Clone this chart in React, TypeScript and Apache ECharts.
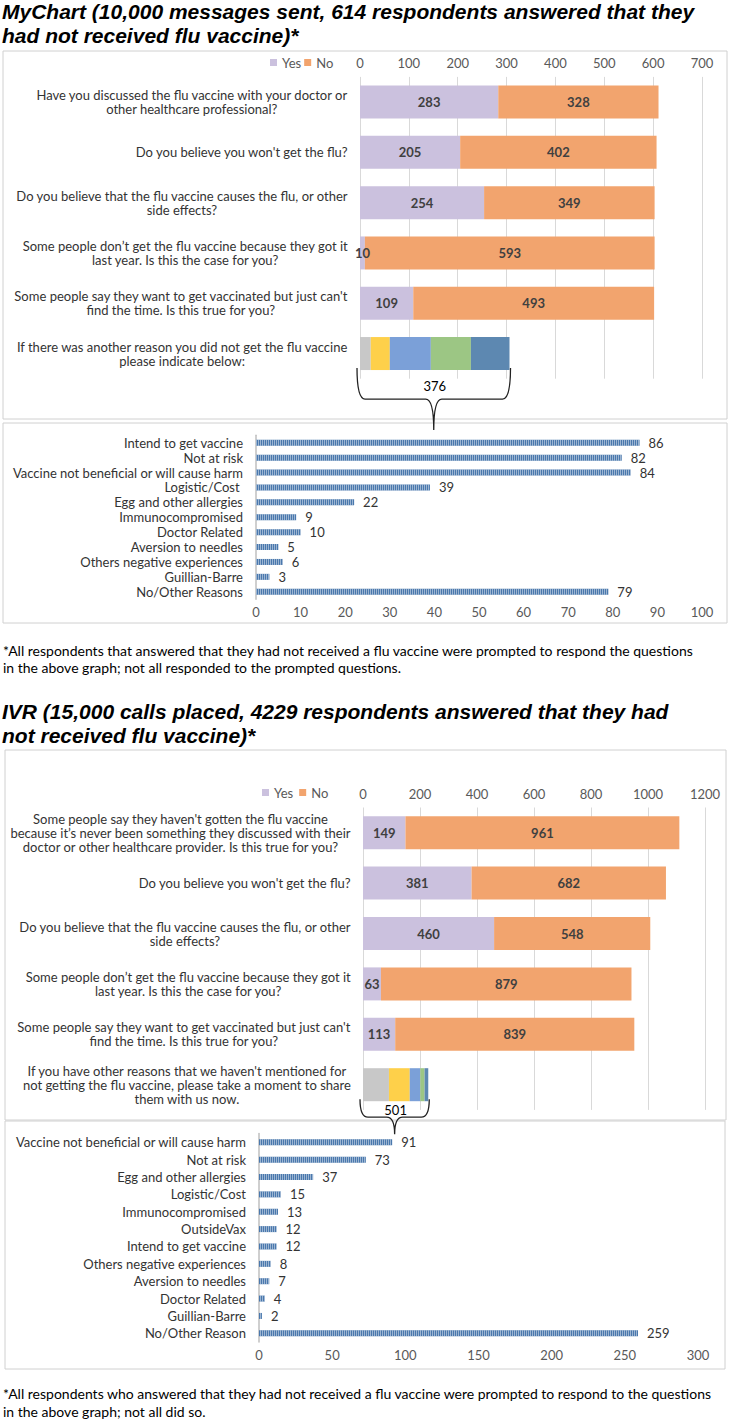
import React, { useEffect, useRef } from 'react';
import * as echarts from 'echarts';

const FONT = 'Lato, "Noto Sans", sans-serif';
const TITLE_FONT = '"Liberation Sans", Arial, sans-serif';

// ---------- MyChart data ----------
const mcTitle = [
  'MyChart (10,000 messages sent, 614 respondents answered that they',
  'had not received flu vaccine)*',
];
const mcQuestions = [
  'Have you discussed the flu vaccine with your doctor or\nother healthcare professional?',
  "Do you believe you won't get the flu?",
  'Do you believe that the flu vaccine causes the flu, or other\nside effects?',
  'Some people don\u2019t get the flu vaccine because they got it\nlast year. Is this the case for you?',
  "Some people say they want to get vaccinated but just can't\nfind the time. Is this true for you?",
  'If there was another reason you did not get the flu vaccine\nplease indicate below:',
];
const mcYes = [283, 205, 254, 10, 109, null];
const mcNo = [328, 402, 349, 593, 493, null];
const mcOtherSegments = [22, 39, 84, 82, 79];
const mcOtherTotal = '376';
const mcReasons = [
  'Intend to get vaccine',
  'Not at risk',
  'Vaccine not beneficial or will cause harm',
  'Logistic/Cost ',
  'Egg and other allergies',
  'Immunocompromised',
  'Doctor Related',
  'Aversion to needles',
  'Others negative experiences',
  'Guillian-Barre',
  'No/Other Reasons',
];
const mcReasonCounts = [86, 82, 84, 39, 22, 9, 10, 5, 6, 3, 79];
const mcFootnote = [
  '*All respondents that answered that they had not received a flu vaccine were prompted to respond the questions',
  'in the above graph; not all responded to the prompted questions.',
];

// ---------- IVR data ----------
const ivrTitle = [
  'IVR (15,000 calls placed, 4229 respondents answered that they had',
  'not received flu vaccine)*',
];
const ivrQuestions = [
  "Some people say they haven't gotten the flu vaccine\nbecause it\u2019s never been something they discussed with their\ndoctor or other healthcare provider. Is this true for you?",
  "Do you believe you won't get the flu?",
  'Do you believe that the flu vaccine causes the flu, or other\nside effects?',
  'Some people don\u2019t get the flu vaccine because they got it\nlast year. Is this the case for you?',
  "Some people say they want to get vaccinated but just can't\nfind the time. Is this true for you?",
  "If you have other reasons that we haven't mentioned for\nnot getting the flu vaccine, please take a moment to share\nthem with us now.",
];
const ivrYes = [149, 381, 460, 63, 113, null];
const ivrNo = [961, 682, 548, 879, 839, null];
const ivrOtherSegments = [91, 73, 37, 15, 13];
const ivrOtherTotal = '501';
const ivrReasons = [
  'Vaccine not beneficial or will cause harm',
  'Not at risk',
  'Egg and other allergies',
  'Logistic/Cost',
  'Immunocompromised',
  'OutsideVax',
  'Intend to get vaccine',
  'Others negative experiences',
  'Aversion to needles',
  'Doctor Related',
  'Guillian-Barre',
  'No/Other Reason',
];
const ivrReasonCounts = [91, 73, 37, 15, 13, 12, 12, 8, 7, 4, 2, 259];
const ivrFootnote = [
  '*All respondents who answered that they had not received a flu vaccine were prompted to respond to the questions',
  'in the above graph; not all did so.',
];

const legendNames = ['Yes', 'No'];

// ---------- styles ----------
const YES_COLOR = '#cbc1de';
const NO_COLOR = '#f2a46e';
const SEG_COLORS = ['#c8c8c8', '#fed04a', '#7ba0d8', '#9cc684', '#5d88b1'];
const HATCH_COLOR = '#4a78ad';
const TEXT = '#333333';
const AXIS_TEXT = '#595959';
const GRID_LINE = '#d9d9d9';
const LABEL_SIZE = 13;

function centerLines(v: string) {
  return v
    .split('\n')
    .map((l) => `{c|${l}}`)
    .join('\n');
}

function yesNoSeries(g: number, yes: any[], no: any[], segs: number[], total: string, bw: number, drop: number, tip: number) {
  const n = yes.length;
  const lbl = {
    show: true,
    position: 'inside',
    fontSize: LABEL_SIZE,
    fontWeight: 'bold',
    color: '#404040',
    fontFamily: FONT,
  };
  const out: any[] = [
    { name: 'Yes', type: 'bar', stack: 's' + g, xAxisIndex: g, yAxisIndex: g, barWidth: bw, data: yes, itemStyle: { color: YES_COLOR }, label: lbl },
    { name: 'No', type: 'bar', stack: 's' + g, xAxisIndex: g, yAxisIndex: g, barWidth: bw, data: no, itemStyle: { color: NO_COLOR }, label: lbl },
  ];
  segs.forEach((v, i) => {
    const d: any[] = new Array(n).fill(null);
    d[n - 1] = v;
    out.push({ name: 'seg' + g + '_' + i, type: 'bar', stack: 's' + g, xAxisIndex: g, yAxisIndex: g, barWidth: bw, data: d, itemStyle: { color: SEG_COLORS[i] } });
  });
  const sum = segs.reduce((a, b) => a + b, 0);
  out.push({
    type: 'custom',
    xAxisIndex: g,
    yAxisIndex: g,
    clip: false,
    silent: true,
    z: 5,
    data: [[sum, n - 1]],
    renderItem: (_p: any, api: any) => {
      const a = api.coord([0, api.value(1)]);
      const b = api.coord([api.value(0), api.value(1)]);
      const x0 = a[0] - 3;
      const x1 = b[0] + 1;
      const bottom = a[1] + bw / 2;
      const yTop = bottom - 2;
      const yMid = bottom + drop;
      const yTip = bottom + tip;
      const xm = (x0 + x1) / 2;
      const r = Math.min(8, (x1 - x0) / 6);
      const d = `M${x0},${yTop} Q${x0},${yMid} ${x0 + r},${yMid} L${xm - r},${yMid} Q${xm},${yMid} ${xm},${yTip} Q${xm},${yMid} ${xm + r},${yMid} L${x1 - r},${yMid} Q${x1},${yMid} ${x1},${yTop}`;
      return {
        type: 'group',
        children: [
          { type: 'path', shape: { pathData: d }, style: { fill: 'none', stroke: '#222', lineWidth: 1.3 } },
          {
            type: 'text',
            style: { text: total, x: xm + 1, y: (yTop + yMid) / 2 + 2, align: 'center', verticalAlign: 'middle', fontSize: LABEL_SIZE, fontFamily: FONT, fill: '#000' },
          },
        ],
      };
    },
  });
  return out;
}

function reasonSeries(g: number, counts: number[]) {
  return {
    type: 'bar',
    xAxisIndex: g,
    yAxisIndex: g,
    barWidth: 6,
    data: counts,
    itemStyle: {
      color: HATCH_COLOR,
      decal: { symbol: 'rect', symbolSize: 1, dashArrayX: [1, 1], dashArrayY: [4, 0], rotation: 0, color: 'rgba(255,255,255,0.45)' },
    },
    label: { show: true, position: 'right', distance: 9, fontSize: LABEL_SIZE, color: TEXT, fontFamily: FONT },
  };
}

function valueX(g: number, max: number, interval: number, top: boolean, margin: number, split: boolean) {
  return {
    gridIndex: g,
    type: 'value',
    position: top ? 'top' : 'bottom',
    min: 0,
    max,
    interval,
    axisLine: { show: false },
    axisTick: { show: false },
    splitLine: { show: split, lineStyle: { color: GRID_LINE, width: 1 } },
    axisLabel: { margin, fontSize: LABEL_SIZE, color: AXIS_TEXT, fontFamily: FONT, formatter: (v: number) => String(v) },
  };
}

function questionY(g: number, data: string[]) {
  return {
    gridIndex: g,
    type: 'category',
    inverse: true,
    data,
    axisLine: { show: false },
    axisTick: { show: false },
    axisLabel: {
      interval: 0,
      margin: 12,
      formatter: centerLines,
      rich: { c: { align: 'center', fontSize: LABEL_SIZE, lineHeight: 14, color: TEXT, fontFamily: FONT } },
    },
  };
}

function reasonY(g: number, data: string[]) {
  return {
    gridIndex: g,
    type: 'category',
    inverse: true,
    data,
    axisLine: { show: true, lineStyle: { color: '#bfbfbf', width: 1.5 } },
    axisTick: { show: false },
    axisLabel: { interval: 0, margin: 13, fontSize: LABEL_SIZE, color: TEXT, fontFamily: FONT },
  };
}

function titleEl(text: string, x: number, y: number) {
  return {
    type: 'text',
    x,
    y,
    style: {
      text,
      fontSize: 21,
      fontWeight: 'bold',
      fontStyle: 'italic',
      fontFamily: TITLE_FONT,
      fill: '#000',
      verticalAlign: 'top',
      align: 'left',
    },
  };
}

function noteEl(text: string, x: number, y: number) {
  return {
    type: 'text',
    x,
    y,
    style: { text, fontSize: 14, fontFamily: FONT, fill: '#000', verticalAlign: 'middle', align: 'left' },
  };
}

function boxEl(x: number, y: number, w: number, h: number) {
  return { type: 'rect', shape: { x, y, width: w, height: h }, style: { fill: 'none', stroke: '#d0d0d0', lineWidth: 1 }, z: -10 };
}

const legendStyle = { padding: 0, itemWidth: 7, itemHeight: 7, icon: 'rect', textStyle: { fontSize: LABEL_SIZE, color: AXIS_TEXT, fontFamily: FONT } };

export default function App() {
  const ref = useRef<HTMLDivElement>(null);
  useEffect(() => {
    if (!ref.current) return;
    const chart = echarts.init(ref.current, undefined, { renderer: 'svg' });
    const option: any = {
      animation: false,
      backgroundColor: '#ffffff',
      textStyle: { fontFamily: FONT },
      legend: [
        { ...legendStyle, data: legendNames, left: 270, top: 56, itemGap: 3 },
        { ...legendStyle, data: legendNames, left: 262, top: 786, itemGap: 6 },
      ],
      grid: [
        { left: 360, right: 28, top: 76.9, height: 301.8 },
        { left: 256, right: 28, top: 435.3, height: 163.9 },
        { left: 363, right: 25, top: 807.5, height: 302.4 },
        { left: 259, right: 32, top: 1133.6, height: 208.4 },
      ],
      xAxis: [
        valueX(0, 700, 100, true, 7, true),
        valueX(1, 100, 10, false, 6.5, false),
        valueX(2, 1200, 200, true, 7.5, true),
        valueX(3, 300, 50, false, 6.7, false),
      ],
      yAxis: [questionY(0, mcQuestions), reasonY(1, mcReasons), questionY(2, ivrQuestions), reasonY(3, ivrReasons)],
      series: [
        ...yesNoSeries(0, mcYes, mcNo, mcOtherSegments, mcOtherTotal, 33, 29, 60),
        reasonSeries(1, mcReasonCounts),
        ...yesNoSeries(2, ivrYes, ivrNo, ivrOtherSegments, ivrOtherTotal, 33, 16, 33),
        reasonSeries(3, ivrReasonCounts),
      ],
      graphic: [
        boxEl(3, 51, 724, 368),
        boxEl(3, 423, 724, 200),
        boxEl(5, 750, 721, 370),
        boxEl(5, 1121, 720, 248),
        titleEl(mcTitle[0], 2, 1),
        titleEl(mcTitle[1], 2, 25),
        noteEl(mcFootnote[0], 3, 650),
        noteEl(mcFootnote[1], 3, 667),
        titleEl(ivrTitle[0], 2, 701),
        titleEl(ivrTitle[1], 2, 725),
        noteEl(ivrFootnote[0], 3, 1393),
        noteEl(ivrFootnote[1], 3, 1411),
      ],
    };
    chart.setOption(option);
    return () => chart.dispose();
  }, []);
  return <div ref={ref} style={{ position: 'absolute', left: 0, top: 0, width: 730, height: 1427 }} />;
}
